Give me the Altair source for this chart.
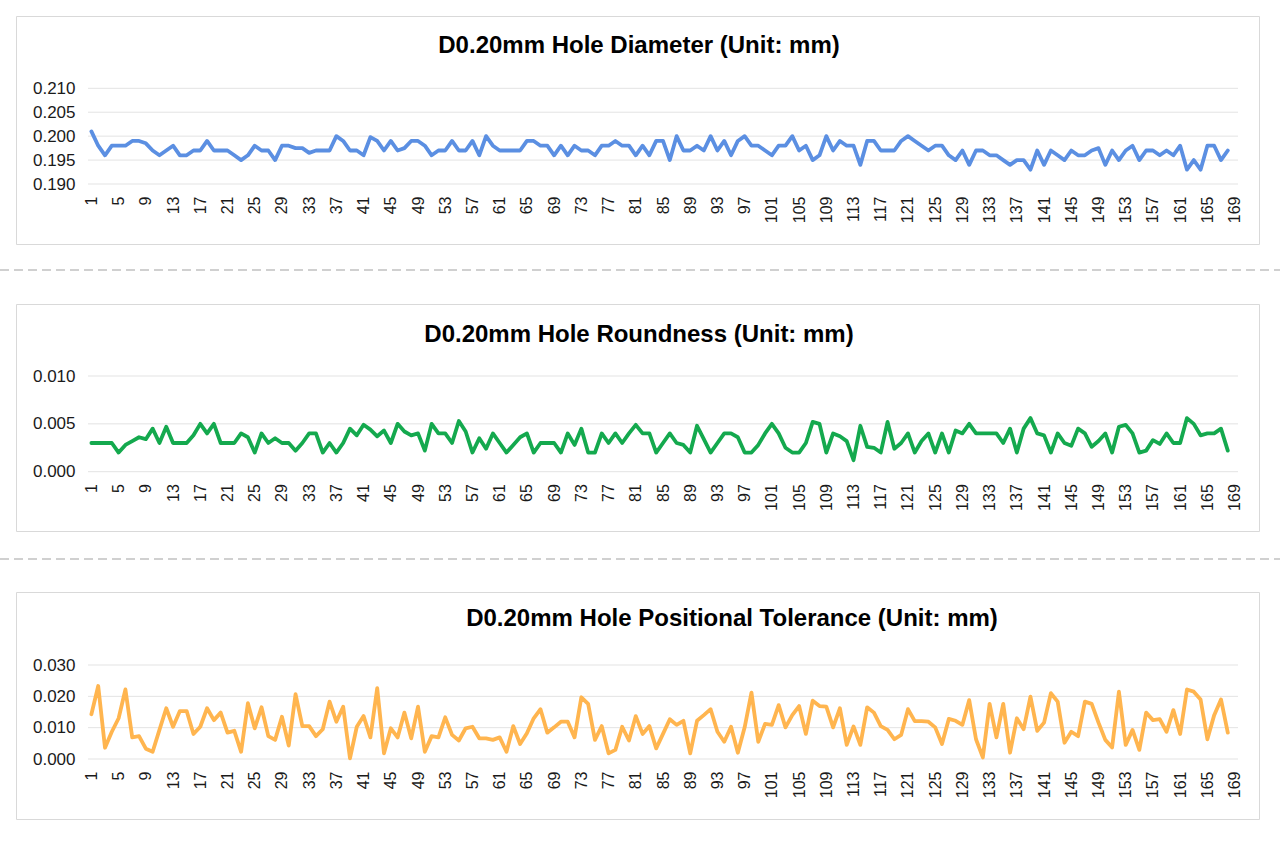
import altair as alt
import pandas as pd

# ---------------- data ----------------
SAMPLE = list(range(1, 169))

DIAMETER = [
    0.201, 0.198, 0.196, 0.198, 0.198, 0.198, 0.199, 0.199, 0.1985, 0.197,
    0.196, 0.197, 0.198, 0.196, 0.196, 0.197, 0.197, 0.199, 0.197, 0.197,
    0.197, 0.196, 0.195, 0.196, 0.198, 0.197, 0.197, 0.195, 0.198, 0.198,
    0.1975, 0.1975, 0.1965, 0.197, 0.197, 0.197, 0.200, 0.199, 0.197, 0.197,
    0.196, 0.1998, 0.199, 0.197, 0.199, 0.197, 0.1975, 0.199, 0.199, 0.198,
    0.196, 0.197, 0.197, 0.199, 0.197, 0.197, 0.199, 0.196, 0.200, 0.198,
    0.197, 0.197, 0.197, 0.197, 0.199, 0.199, 0.198, 0.198, 0.196, 0.198,
    0.196, 0.198, 0.197, 0.197, 0.196, 0.198, 0.198, 0.199, 0.198, 0.198,
    0.196, 0.198, 0.196, 0.199, 0.199, 0.195, 0.200, 0.197, 0.197, 0.198,
    0.197, 0.200, 0.197, 0.199, 0.196, 0.199, 0.200, 0.198, 0.198, 0.197,
    0.196, 0.198, 0.198, 0.200, 0.197, 0.198, 0.195, 0.196, 0.200, 0.197,
    0.199, 0.198, 0.198, 0.194, 0.199, 0.199, 0.197, 0.197, 0.197, 0.199,
    0.200, 0.199, 0.198, 0.197, 0.198, 0.198, 0.196, 0.195, 0.197, 0.194,
    0.197, 0.197, 0.196, 0.196, 0.195, 0.194, 0.195, 0.195, 0.193, 0.197,
    0.194, 0.197, 0.196, 0.195, 0.197, 0.196, 0.196, 0.197, 0.1975, 0.194,
    0.197, 0.195, 0.197, 0.198, 0.195, 0.197, 0.197, 0.196, 0.197, 0.196,
    0.198, 0.193, 0.195, 0.193, 0.198, 0.198, 0.195, 0.197,
]

ROUNDNESS = [
    0.003, 0.003, 0.003, 0.003, 0.002, 0.0028, 0.0032, 0.0036, 0.0034, 0.0045,
    0.003, 0.0047, 0.003, 0.003, 0.003, 0.0038, 0.005, 0.004, 0.005, 0.003,
    0.003, 0.003, 0.004, 0.0036, 0.002, 0.004, 0.003, 0.0035, 0.003, 0.003,
    0.0022, 0.003, 0.004, 0.004, 0.002, 0.003, 0.002, 0.003, 0.0045, 0.0038,
    0.0049, 0.0044, 0.0037, 0.0043, 0.003, 0.005, 0.0042, 0.0038, 0.004, 0.0022,
    0.005, 0.004, 0.004, 0.003, 0.0053, 0.0042, 0.002, 0.0035, 0.0024, 0.004,
    0.003, 0.002, 0.0028, 0.0036, 0.004, 0.002, 0.003, 0.003, 0.003, 0.002,
    0.004, 0.0028, 0.0045, 0.002, 0.002, 0.004, 0.003, 0.004, 0.003, 0.004,
    0.0049, 0.004, 0.004, 0.002, 0.003, 0.004, 0.003, 0.0028, 0.002, 0.0048,
    0.0034, 0.002, 0.003, 0.004, 0.004, 0.0036, 0.002, 0.002, 0.0028, 0.004,
    0.005, 0.004, 0.0025, 0.002, 0.002, 0.003, 0.0052, 0.005, 0.002, 0.004,
    0.0037, 0.0032, 0.0012, 0.0048, 0.0026, 0.0025, 0.002, 0.0052, 0.0024, 0.003,
    0.004, 0.002, 0.0032, 0.004, 0.002, 0.004, 0.002, 0.0043, 0.004, 0.005,
    0.004, 0.004, 0.004, 0.004, 0.003, 0.0045, 0.002, 0.0045, 0.0056, 0.004,
    0.0038, 0.002, 0.004, 0.003, 0.0027, 0.0045, 0.004, 0.0026, 0.0032, 0.004,
    0.002, 0.0047, 0.0049, 0.004, 0.002, 0.0022, 0.0033, 0.0029, 0.004, 0.003,
    0.003, 0.0056, 0.005, 0.0038, 0.004, 0.004, 0.0045, 0.0022,
]

POSITIONAL = [
    0.0143, 0.0233, 0.0036, 0.0087, 0.0130, 0.0222, 0.0069, 0.0073, 0.0033, 0.0023,
    0.0093, 0.0162, 0.0103, 0.0153, 0.0153, 0.0080, 0.0103, 0.0162, 0.0124, 0.0148,
    0.0084, 0.0090, 0.0023, 0.0178, 0.0098, 0.0165, 0.0073, 0.0061, 0.0135, 0.0043,
    0.0207, 0.0105, 0.0105, 0.0073, 0.0095, 0.0183, 0.0119, 0.0167, 0.0002, 0.0103,
    0.0137, 0.0069, 0.0226, 0.0018, 0.0098, 0.0069, 0.0148, 0.0066, 0.0167, 0.0023,
    0.0073, 0.0069, 0.0133, 0.0077, 0.0059, 0.0098, 0.0103, 0.0066, 0.0066, 0.0061,
    0.0069, 0.0023, 0.0105, 0.0048, 0.0082, 0.0130, 0.0159, 0.0084, 0.0101, 0.0119,
    0.0119, 0.0069, 0.0197, 0.0176, 0.0061, 0.0105, 0.0018, 0.0029, 0.0103, 0.0059,
    0.0137, 0.0080, 0.0105, 0.0034, 0.0080, 0.0127, 0.0109, 0.0122, 0.0018, 0.0122,
    0.0140, 0.0159, 0.0087, 0.0055, 0.0103, 0.0020, 0.0101, 0.0212, 0.0055, 0.0112,
    0.0109, 0.0172, 0.0101, 0.0140, 0.0169, 0.0080, 0.0186, 0.0169, 0.0167, 0.0101,
    0.0162, 0.0045, 0.0104, 0.0045, 0.0165, 0.0148, 0.0105, 0.0093, 0.0063, 0.0077,
    0.0159, 0.0121, 0.0121, 0.0119, 0.0101, 0.0048, 0.0128, 0.0122, 0.0109, 0.0188,
    0.0063, 0.0005, 0.0176, 0.0069, 0.0176, 0.0020, 0.0130, 0.0095, 0.0199, 0.0090,
    0.0116, 0.0210, 0.0183, 0.0052, 0.0087, 0.0073, 0.0183, 0.0176, 0.0116, 0.0061,
    0.0037, 0.0215, 0.0045, 0.0093, 0.0029, 0.0148, 0.0124, 0.0127, 0.0087, 0.0156,
    0.0080, 0.0222, 0.0215, 0.0190, 0.0063, 0.0140, 0.0190, 0.0084,
]

TITLES = [
    "D0.20mm Hole Diameter (Unit: mm)",
    "D0.20mm Hole Roundness (Unit: mm)",
    "D0.20mm Hole Positional Tolerance (Unit: mm)",
]
X_TICKS = list(range(1, 170, 4))
Y_TICKS = [
    [0.190, 0.195, 0.200, 0.205, 0.210],
    [0.000, 0.005, 0.010],
    [0.000, 0.010, 0.020, 0.030],
]
COLORS = ["#5B8FE2", "#14A94E", "#FFB54F"]

# ---------------- layout ----------------
W, H = 1280, 842
FONT = "Liberation Sans"
X0, X1 = 88, 1238
PANELS = [
    # box top, box bottom, plot bottom px, plot top px, title x, title y
    dict(bt=16.5, bb=244.5, yb=184.0, yt=88.3, tx=639, ty=46),
    dict(bt=304.5, bb=531.5, yb=471.7, yt=376.0, tx=639, ty=335),
    dict(bt=592.5, bb=819.5, yb=759.0, yt=665.0, tx=732, ty=619),
]
DASH_Y = [270, 559]

dummy = pd.DataFrame({"k": [0]})


def panel(i, values):
    p = PANELS[i]
    ticks = Y_TICKS[i]
    xs = alt.Scale(domain=[0.5, 169.5], range=[X0, X1], nice=False, zero=False)
    ys = alt.Scale(domain=[ticks[0], ticks[-1]], range=[p["yb"], p["yt"]],
                   nice=False, zero=False)
    yaxis = alt.Axis(values=ticks, format=".3f", orient="left", offset=-X0,
                     title=None, grid=False, domain=False, ticks=False,
                     tickSize=0, labelPadding=13, labelFont=FONT,
                     labelFontSize=17, labelColor="#1a1a1a", zindex=2)
    xaxis = alt.Axis(values=X_TICKS, format="d", orient="bottom",
                     offset=-(H - p["yb"]), labelAngle=-90, title=None,
                     grid=False, domain=False, ticks=False, tickSize=0,
                     labelPadding=12, labelFont=FONT, labelFontSize=16,
                     labelColor="#1a1a1a", labelOverlap=False, zindex=2)
    grid = alt.Chart(pd.DataFrame({"t": ticks})).mark_rule(
        color="#e3e3e3", strokeWidth=1
    ).encode(y=alt.Y("t:Q", scale=ys, axis=yaxis),
             x=alt.value(X0), x2=alt.value(X1))
    df = pd.DataFrame({"n": SAMPLE, "v": values})
    line = alt.Chart(df).mark_line(
        color=COLORS[i], strokeWidth=3.8, strokeJoin="round", strokeCap="round"
    ).encode(x=alt.X("n:Q", scale=xs, axis=xaxis),
             y=alt.Y("v:Q", scale=ys, axis=yaxis))
    return alt.layer(grid, line)


boxes = [
    alt.Chart(dummy).mark_rect(fill="white", stroke="#d9d9d9", strokeWidth=1).encode(
        x=alt.value(16.5), x2=alt.value(1259.5),
        y=alt.value(p["bt"]), y2=alt.value(p["bb"]))
    for p in PANELS
]
dashes = [
    alt.Chart(dummy).mark_rule(color="#d0d0d0", strokeWidth=2, strokeDash=[9, 5]).encode(
        x=alt.value(0), x2=alt.value(W), y=alt.value(y))
    for y in DASH_Y
]
titles = [
    alt.Chart(dummy).mark_text(
        text=TITLES[i], font=FONT, fontSize=24, fontWeight="bold",
        color="#000000", align="center", baseline="middle"
    ).encode(x=alt.value(PANELS[i]["tx"]), y=alt.value(PANELS[i]["ty"]))
    for i in range(3)
]

panels = [panel(0, DIAMETER), panel(1, ROUNDNESS), panel(2, POSITIONAL)]

chart = alt.layer(*boxes, *dashes, *panels, *titles).resolve_scale(
    x="independent", y="independent"
).properties(
    width=W, height=H, padding=0, autosize="none", background="white"
).configure_view(stroke=None)

chart.save("out.html", embed_options={"renderer": "svg", "actions": False})
